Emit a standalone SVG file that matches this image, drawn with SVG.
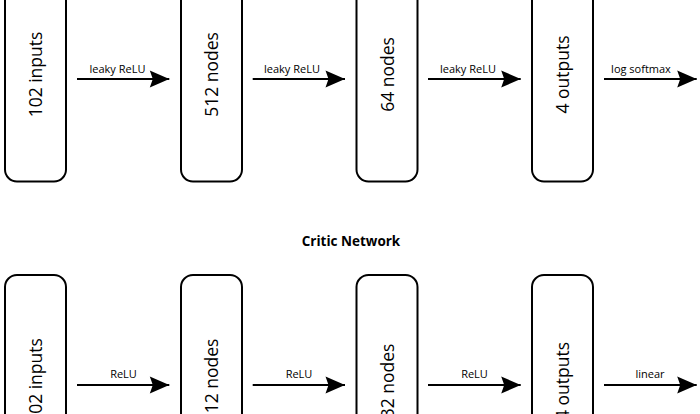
<svg xmlns="http://www.w3.org/2000/svg" width="700" height="414" viewBox="0 0 700 414">
<defs>
<style>
.box{fill:#fff;stroke:#000;stroke-width:2}
.bt{font-family:"Open Sans","DejaVu Sans",sans-serif;font-size:17.5px;text-anchor:middle;fill:#000}
.lb{font-family:"Open Sans","DejaVu Sans",sans-serif;font-size:11px;text-anchor:middle;fill:#000}
.ttl{font-family:"Open Sans","DejaVu Sans",sans-serif;font-size:13.5px;font-weight:bold;text-anchor:middle;fill:#000}
.ar{stroke:#000;stroke-width:2;fill:none;marker-end:url(#ah)}
</style>
<marker id="ah" markerUnits="userSpaceOnUse" markerWidth="20" markerHeight="18" refX="19.5" refY="8.5" orient="auto" overflow="visible">
<path d="M0,0 L19.5,8.5 L0,17 L3,8.5 Z" fill="#000"/>
</marker>
</defs>
<rect width="700" height="414" fill="#fff"/>

<g id="actor-in"><rect class="box" x="5" y="-31" width="61" height="212.5" rx="12"/><text class="bt" transform="translate(42,74.5) rotate(-90)">102 inputs</text></g>
<g id="actor-h1"><rect class="box" x="181" y="-31" width="61" height="212.5" rx="12"/><text class="bt" transform="translate(218,74.5) rotate(-90)">512 nodes</text></g>
<g id="actor-h2"><rect class="box" x="356.5" y="-31" width="61" height="212.5" rx="12"/><text class="bt" transform="translate(393.5,74.5) rotate(-90)">64 nodes</text></g>
<g id="actor-out"><rect class="box" x="532" y="-31" width="61" height="212.5" rx="12"/><text class="bt" transform="translate(569,74.5) rotate(-90)">4 outputs</text></g>

<g id="critic-title"><text class="ttl" x="351" y="245.5">Critic Network</text></g>

<g id="critic-in"><rect class="box" x="5" y="275" width="61" height="212.5" rx="12"/><text class="bt" transform="translate(42,381) rotate(-90)">102 inputs</text></g>
<g id="critic-h1"><rect class="box" x="181" y="275" width="61" height="212.5" rx="12"/><text class="bt" transform="translate(218,381) rotate(-90)">512 nodes</text></g>
<g id="critic-h2"><rect class="box" x="356.5" y="275" width="61" height="212.5" rx="12"/><text class="bt" transform="translate(393.5,381) rotate(-90)">32 nodes</text></g>
<g id="critic-out"><rect class="box" x="532" y="275" width="61" height="212.5" rx="12"/><text class="bt" transform="translate(569,381) rotate(-90)">4 outputs</text></g>

<g id="connectors">
<line class="ar" x1="77" y1="79" x2="169.3" y2="79"/>
<line class="ar" x1="252.7" y1="79" x2="345" y2="79"/>
<line class="ar" x1="428" y1="79" x2="520.7" y2="79"/>
<line class="ar" x1="604" y1="79" x2="696.7" y2="79"/>
<text class="lb" x="117.5" y="72.5">leaky ReLU</text>
<text class="lb" x="292" y="72.5">leaky ReLU</text>
<text class="lb" x="468" y="72.5">leaky ReLU</text>
<text class="lb" x="641" y="72.5">log softmax</text>

<line class="ar" x1="77" y1="385" x2="169.3" y2="385"/>
<line class="ar" x1="252.7" y1="385" x2="345" y2="385"/>
<line class="ar" x1="428" y1="385" x2="520.7" y2="385"/>
<line class="ar" x1="604" y1="385" x2="696.7" y2="385"/>
<text class="lb" x="123.5" y="378">ReLU</text>
<text class="lb" x="299" y="378">ReLU</text>
<text class="lb" x="474.5" y="378">ReLU</text>
<text class="lb" x="650" y="378">linear</text>
</g>
</svg>
